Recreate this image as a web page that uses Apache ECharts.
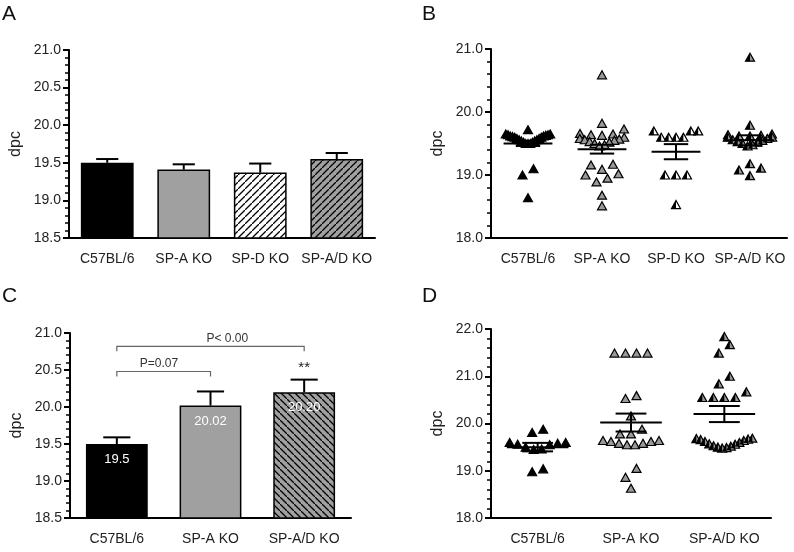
<!DOCTYPE html>
<html><head><meta charset="utf-8">
<script src="https://cdn.jsdelivr.net/npm/echarts/dist/echarts.min.js"></script>
<style>html,body{margin:0;padding:0;background:#fff}#c{width:794px;height:552px}</style>
</head><body><div id="c"></div>
<script>
// ---------- data ----------
const catsAB = ['C57BL/6', 'SP-A KO', 'SP-D KO', 'SP-A/D KO'];
const catsCD = ['C57BL/6', 'SP-A KO', 'SP-A/D KO'];
const yTicksAC = [18.5, 19.0, 19.5, 20.0, 20.5, 21.0];
const yTicksB = [18.0, 19.0, 20.0, 21.0];
const yTicksD = [18.0, 19.0, 20.0, 21.0, 22.0];

// Panel A: bar means and SEM
const aMean = [19.50, 19.41, 19.37, 19.55];
const aSem = [0.05, 0.07, 0.12, 0.08];

// Panel B: individual values
const bC57 = [19.72, 19.65, 19.64, 19.63, 19.62, 19.61, 19.60, 19.58, 19.56, 19.54, 19.52, 19.50, 19.50, 19.50, 19.52, 19.54, 19.56, 19.58, 19.60, 19.62, 19.64, 19.65, 19.10, 19.00, 18.64];
const bSPA = [20.59, 19.82, 19.73, 19.66, 19.65, 19.64, 19.63, 19.60, 19.58, 19.57, 19.56, 19.55, 19.53, 19.52, 19.50, 19.48, 19.46, 19.17, 19.16, 19.09, 19.02, 19.00, 18.95, 18.89, 18.68, 18.51];
const bSPD = [19.70, 19.70, 19.70, 19.60, 19.60, 19.60, 19.60, 19.00, 19.00, 19.00, 18.53];
const bSPAD = [20.87, 19.79, 19.65, 19.64, 19.63, 19.62, 19.62, 19.60, 19.60, 19.58, 19.56, 19.55, 19.53, 19.52, 19.50, 19.48, 19.46, 19.18, 19.11, 19.08, 18.99];
const bMean = [19.50, 19.41, 19.37, 19.55];
const bSem = [0.04, 0.07, 0.12, 0.08];

// Panel C: bar means, SEM, labels, brackets
const cMean = [19.50, 20.02, 20.20];
const cSem = [0.09, 0.19, 0.17];
const cLabels = ['19.5', '20.02', '20.20'];
const cSig = ['', '', '**'];
const bracketFrom = [0, 0];
const bracketTo = [1, 2];
const bracketY = [20.48, 20.82];
const bracketText = ['P=0.07', 'P< 0.00'];

// Panel D: individual values
const dC57 = [19.88, 19.81, 19.60, 19.58, 19.56, 19.55, 19.50, 19.46, 19.45, 19.60, 19.04, 18.98];
const dSPA = [21.49, 21.49, 21.49, 21.49, 20.59, 20.53, 20.16, 19.88, 19.78, 19.78, 19.64, 19.62, 19.58, 19.55, 19.55, 19.58, 19.62, 19.64, 19.05, 18.86, 18.63];
const dSPAD = [21.84, 21.67, 21.49, 21.00, 20.84, 20.67, 20.55, 20.55, 20.55, 20.55, 19.69, 19.68, 19.67, 19.66, 19.64, 19.62, 19.60, 19.57, 19.56, 19.53, 19.52, 19.50, 19.49, 19.48];
const dMean = [19.50, 20.02, 20.20];
const dSem = [0.09, 0.19, 0.17];

// ---------- styles / layout ----------
const FONT = "'Liberation Sans', Arial, Helvetica, sans-serif";
const GRIDS = [
  {left: 69, top: 50, width: 306, height: 188},
  {left: 491, top: 49, width: 296, height: 189},
  {left: 70, top: 333, width: 281, height: 185},
  {left: 491, top: 329, width: 280, height: 189}
];
const GRAY = '#a0a0a0';

function hatch(bg, dir) {
  const s = 7;
  const c = document.createElement('canvas');
  c.width = s; c.height = s;
  const g = c.getContext('2d');
  g.fillStyle = bg; g.fillRect(0, 0, s, s);
  g.strokeStyle = '#000'; g.lineWidth = 1.3;
  g.beginPath();
  if (dir === '/') {
    g.moveTo(-1, s + 1); g.lineTo(s + 1, -1);
    g.moveTo(-2, 1); g.lineTo(1, -2);
    g.moveTo(s - 1, s + 2); g.lineTo(s + 2, s - 1);
  } else {
    g.moveTo(-1, -1); g.lineTo(s + 1, s + 1);
    g.moveTo(s - 1, -2); g.lineTo(s + 2, 1);
    g.moveTo(-2, s - 1); g.lineTo(1, s + 2);
  }
  g.stroke();
  return {image: c, repeat: 'repeat'};
}

function yAxis(gi, ticks) {
  return {
    gridIndex: gi, type: 'value', min: ticks[0], max: ticks[ticks.length - 1],
    interval: ticks[1] - ticks[0],
    name: 'dpc', nameLocation: 'middle', nameGap: 45,
    nameTextStyle: {fontFamily: FONT, fontSize: 16, color: '#222'},
    axisLine: {show: true, lineStyle: {color: '#000', width: 2}},
    axisTick: {show: true, length: 6, lineStyle: {color: '#000', width: 2}},
    minorTick: {show: true, splitNumber: 5, length: 4, lineStyle: {color: '#000', width: 1.5}},
    splitLine: {show: false},
    axisLabel: {margin: 8, fontFamily: FONT, fontSize: 14, color: '#222', formatter: v => v.toFixed(1)}
  };
}
function xAxis(gi, cats) {
  return {
    gridIndex: gi, type: 'category', data: cats,
    axisLine: {onZero: false, lineStyle: {color: '#000', width: 2}},
    axisTick: {alignWithLabel: true, length: 5, lineStyle: {color: '#000', width: 2}},
    axisLabel: {interval: 0, margin: 14, fontFamily: FONT, fontSize: 14, color: '#222'}
  };
}

// beeswarm-like row layout (GraphPad style)
function swarmOffsets(values, pxPerUnit, band) {
  const ROWH = 10, STEP = 11;
  const idx = values.map((v, i) => i).sort((a, b) => values[a] - values[b]);
  const rows = []; let cur = null;
  for (const i of idx) {
    if (!cur || (values[i] - values[cur[0]]) * pxPerUnit >= ROWH) { cur = [i]; rows.push(cur); }
    else cur.push(i);
  }
  const off = new Array(values.length).fill(0);
  const maxW = band * 0.6;
  for (const r of rows) {
    const n = r.length; if (n === 1) continue;
    const step = Math.min(STEP, maxW / (n - 1));
    const slots = [];
    for (let k = 0; k < n; k++) slots.push(k - (n - 1) / 2);
    slots.sort((a, b) => (Math.abs(a) - Math.abs(b)) || (a - b));
    r.forEach((pi, j) => { off[pi] = slots[j] * step; });
  }
  return off;
}

const TRI = [9, 8];
const HALF = 'path://M1,0 L1,2 L0,2 Z';
function scatterSeries(gi, cat, values, pxPerUnit, band, fill, halfBlack) {
  const off = swarmOffsets(values, pxPerUnit, band);
  const out = [{
    type: 'scatter', xAxisIndex: gi, yAxisIndex: gi, symbol: 'triangle', symbolSize: TRI,
    itemStyle: {color: fill, borderColor: '#000', borderWidth: 1.2, opacity: 1},
    data: values.map((v, i) => ({value: [cat, v], symbolOffset: [off[i], 0]})),
    z: 2
  }];
  if (halfBlack) {
    out.push({
      type: 'scatter', xAxisIndex: gi, yAxisIndex: gi, symbol: HALF, symbolSize: [TRI[0] / 2, TRI[1]],
      itemStyle: {color: '#000', opacity: 1},
      data: values.map((v, i) => ({value: [cat, v], symbolOffset: [off[i] - TRI[0] / 4, 0]})),
      z: 2
    });
  }
  return out;
}

function errUp(sig) {
  return function (params, api) {
    const x = api.value(0), m = api.value(1), s = api.value(2);
    const p0 = api.coord([x, m]), p1 = api.coord([x, m + s]);
    const hw = api.size([1, 0])[0] * 0.145;
    const ch = [
      {type: 'line', shape: {x1: p0[0], y1: p0[1], x2: p1[0], y2: p1[1]}, style: {stroke: '#000', lineWidth: 2}},
      {type: 'line', shape: {x1: p1[0] - hw, y1: p1[1], x2: p1[0] + hw, y2: p1[1]}, style: {stroke: '#000', lineWidth: 2}}
    ];
    if (sig && sig[params.dataIndex]) {
      ch.push({type: 'text', x: p1[0], y: p1[1] - 19, style: {text: sig[params.dataIndex], fontFamily: FONT, fontSize: 15, fill: '#222', align: 'center', verticalAlign: 'top'}});
    }
    return {type: 'group', children: ch};
  };
}
function meanSem(params, api) {
  const x = api.value(0), m = api.value(1), s = api.value(2);
  const pm = api.coord([x, m]), pt = api.coord([x, m + s]), pb = api.coord([x, m - s]);
  const band = api.size([1, 0])[0];
  const hw = band * 0.33, cw = band * 0.165;
  const st = {stroke: '#000', lineWidth: 2};
  return {type: 'group', children: [
    {type: 'line', shape: {x1: pm[0] - hw, y1: pm[1], x2: pm[0] + hw, y2: pm[1]}, style: st},
    {type: 'line', shape: {x1: pt[0], y1: pt[1], x2: pb[0], y2: pb[1]}, style: st},
    {type: 'line', shape: {x1: pt[0] - cw, y1: pt[1], x2: pt[0] + cw, y2: pt[1]}, style: st},
    {type: 'line', shape: {x1: pb[0] - cw, y1: pb[1], x2: pb[0] + cw, y2: pb[1]}, style: st}
  ]};
}
const bracketFrac = [0.45, 0.59];
function bracketItem(params, api) {
  const i = params.dataIndex;
  const a = api.coord([api.value(0), api.value(2)]);
  const b = api.coord([api.value(1), api.value(2)]);
  const tx = a[0] + (b[0] - a[0]) * bracketFrac[i];
  return {type: 'group', children: [
    {type: 'polyline', shape: {points: [[a[0], a[1] + 5], [a[0], a[1]], [b[0], b[1]], [b[0], b[1] + 5]]}, style: {stroke: '#666', lineWidth: 1.2, fill: null}},
    {type: 'text', x: tx, y: a[1] - 2, style: {text: bracketText[i], fontFamily: FONT, fontSize: 12, fill: '#333', align: 'center', verticalAlign: 'bottom'}}
  ]};
}

const aFill = ['#000', GRAY, hatch('#fff', '/'), hatch(GRAY, '/')];
const cFill = ['#000', GRAY, hatch(GRAY, '\\')];

const bPx = GRIDS[1].height / (yTicksB[yTicksB.length - 1] - yTicksB[0]);
const bBand = GRIDS[1].width / catsAB.length;
const dPx = GRIDS[3].height / (yTicksD[yTicksD.length - 1] - yTicksD[0]);
const dBand = GRIDS[3].width / catsCD.length;

const series = [
  // A bars
  {type: 'bar', xAxisIndex: 0, yAxisIndex: 0, barWidth: '69%',
   itemStyle: {borderColor: '#000', borderWidth: 1.5},
   data: aMean.map((v, i) => ({value: v, itemStyle: {color: aFill[i]}}))},
  {type: 'custom', xAxisIndex: 0, yAxisIndex: 0, renderItem: errUp(null), z: 5,
   data: aMean.map((m, i) => [i, m, aSem[i]])},
  // B scatter
  ...scatterSeries(1, 0, bC57, bPx, bBand, '#000', false),
  ...scatterSeries(1, 1, bSPA, bPx, bBand, '#999', false),
  ...scatterSeries(1, 2, bSPD, bPx, bBand, '#fff', true),
  ...scatterSeries(1, 3, bSPAD, bPx, bBand, '#999', true),
  {type: 'custom', xAxisIndex: 1, yAxisIndex: 1, renderItem: meanSem, z: 6,
   data: bMean.map((m, i) => [i, m, bSem[i]])},
  // C bars
  {type: 'bar', xAxisIndex: 2, yAxisIndex: 2, barWidth: '66%',
   itemStyle: {borderColor: '#000', borderWidth: 1.5},
   label: {show: true, position: 'insideTop', distance: 9, color: '#fff', fontFamily: FONT, fontSize: 13,
           formatter: p => cLabels[p.dataIndex]},
   data: cMean.map((v, i) => ({value: v, itemStyle: {color: cFill[i]}}))},
  {type: 'custom', xAxisIndex: 2, yAxisIndex: 2, renderItem: errUp(cSig), z: 5,
   data: cMean.map((m, i) => [i, m, cSem[i]])},
  {type: 'custom', xAxisIndex: 2, yAxisIndex: 2, renderItem: bracketItem, z: 5,
   encode: {x: [0, 1], y: 2},
   data: bracketY.map((y, i) => [bracketFrom[i], bracketTo[i], y])},
  // D scatter
  ...scatterSeries(3, 0, dC57, dPx, dBand, '#000', false),
  ...scatterSeries(3, 1, dSPA, dPx, dBand, '#999', false),
  ...scatterSeries(3, 2, dSPAD, dPx, dBand, '#999', true),
  {type: 'custom', xAxisIndex: 3, yAxisIndex: 3, renderItem: meanSem, z: 6,
   data: dMean.map((m, i) => [i, m, dSem[i]])}
];

const letter = (t, x, y) => ({type: 'text', left: x, top: y, style: {text: t, fontFamily: FONT, fontSize: 21, fill: '#111'}});

const chart = echarts.init(document.getElementById('c'), null, {renderer: 'canvas'});
chart.setOption({
  animation: false,
  backgroundColor: '#fff',
  grid: GRIDS,
  xAxis: [xAxis(0, catsAB), xAxis(1, catsAB), xAxis(2, catsCD), xAxis(3, catsCD)],
  yAxis: [yAxis(0, yTicksAC), yAxis(1, yTicksB), yAxis(2, yTicksAC), yAxis(3, yTicksD)],
  graphic: [letter('A', 2, 4), letter('B', 422, 4), letter('C', 2, 286), letter('D', 422, 286)],
  series: series
});
</script></body></html>
